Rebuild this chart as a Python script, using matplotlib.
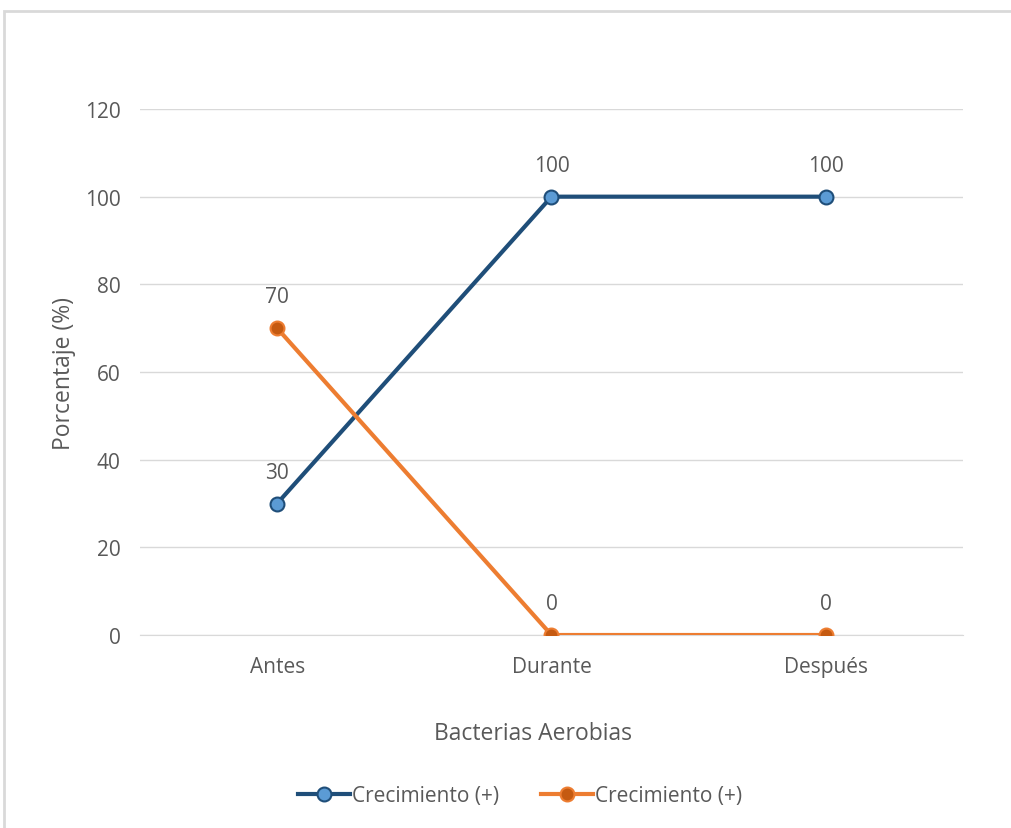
import matplotlib.pyplot as plt
from matplotlib.patches import Rectangle

categories = ['Antes', 'Durante', 'Después']
serie_azul = [30, 100, 100]
serie_naranja = [70, 0, 0]
etiqueta = 'Crecimiento (+)'

gris = '#595959'
plt.rcParams['font.family'] = ['Open Sans', 'DejaVu Sans']

fig = plt.figure(figsize=(10.12, 8.29), dpi=100)
ax = fig.add_axes([0.1383, 0.2328, 0.8133, 0.6345])

# marco del grafico
fig.patches.append(Rectangle((4 / 1012, -0.05), 1.1, 1 - 12 / 829 + 0.05,
                             transform=fig.transFigure, fill=False,
                             edgecolor='#D9D9D9', linewidth=2))

x = range(len(categories))
ax.plot(x, serie_azul, color='#1F4E79', linewidth=3, marker='o', markersize=10,
        markerfacecolor='#5B9BD5', markeredgecolor='#1F4E79', markeredgewidth=1.5,
        label=etiqueta, zorder=3)
ax.plot(x, serie_naranja, color='#ED7D31', linewidth=3, marker='o', markersize=10,
        markerfacecolor='#C55A11', markeredgecolor='#ED7D31', markeredgewidth=1.5,
        label=etiqueta, zorder=3)

for xi, v in zip(x, serie_azul):
    ax.annotate(str(v), (xi, v), xytext=(0, 15), textcoords='offset points',
                ha='center', va='bottom', fontsize=15, color=gris)
for xi, v in zip(x, serie_naranja):
    ax.annotate(str(v), (xi, v), xytext=(0, 15), textcoords='offset points',
                ha='center', va='bottom', fontsize=15, color=gris)

ax.set_xlim(-0.5, 2.5)
ax.set_ylim(0, 120)
ax.set_yticks(range(0, 121, 20))
ax.set_xticks(list(x))
ax.set_xticklabels(categories)
ax.tick_params(length=0, labelsize=15, labelcolor=gris)
ax.tick_params(axis='x', pad=15)
ax.tick_params(axis='y', pad=14)
ax.grid(axis='y', color='#D9D9D9', linewidth=1)
ax.set_axisbelow(True)
for s in ['top', 'right', 'left']:
    ax.spines[s].set_visible(False)
ax.spines['bottom'].set_color('#D9D9D9')
ax.spines['bottom'].set_zorder(1)

ax.set_xlabel('Bacterias Aerobias', fontsize=16.5, color=gris, labelpad=32)
ax.xaxis.label.set_x(0.477)
ax.set_ylabel('Porcentaje (%)', fontsize=16.5, color=gris, labelpad=6)

fig.legend(loc='center', bbox_to_anchor=(520 / 1012, 1 - 797 / 829), ncol=2,
           frameon=False, fontsize=15, labelcolor=gris, handlelength=2.5,
           handletextpad=0.1, columnspacing=2.0)

fig.savefig('out.png', dpi=100)
